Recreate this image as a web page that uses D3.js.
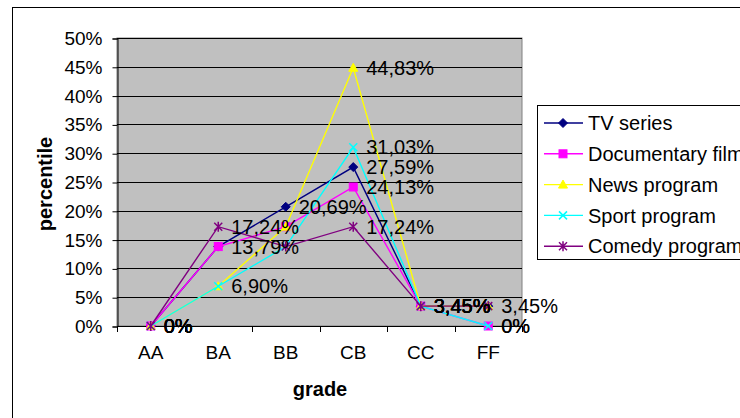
<!DOCTYPE html>
<html><head><meta charset="utf-8">
<script src="https://cdn.jsdelivr.net/npm/d3@7"></script>
<style>body{margin:0;background:#fff}svg{display:block;font-family:"Liberation Sans",Arial,sans-serif}</style>
</head><body><svg id="c" width="740" height="418"></svg>
<script>
const categories = ["AA","BA","BB","CB","CC","FF"];
const seriesNames = ["TV series","Documentary film","News program","Sport program","Comedy program"];
const tvSeries    = [0, 13.79, 20.69, 27.59, 3.45, 3.45];
const documentary = [0, 13.79, 17.24, 24.13, 3.45, 0];
const newsProgram = [0, 6.90, 17.24, 44.83, 3.45, 3.45];
const sportProgram= [0, 6.90, 13.79, 31.03, 3.45, 0];
const comedyProgram=[0, 17.24, 13.79, 17.24, 3.45, 3.45];
// which points carry a visible data label
const tvLabels     = [1,0,1,1,1,0];
const docLabels    = [1,1,0,1,1,1];
const newsLabels   = [1,0,0,1,1,0];
const sportLabels  = [1,1,0,1,1,1];
const comedyLabels = [1,1,0,1,1,1];
const yTicks = [0,5,10,15,20,25,30,35,40,45,50];

const colors = ["#000080","#FF00FF","#FFFF00","#00FFFF","#800080"];
const markers = ["diamond","square","triangle","x","star"];
const values = [tvSeries, documentary, newsProgram, sportProgram, comedyProgram];
const labels = [tvLabels, docLabels, newsLabels, sportLabels, comedyLabels];

const svg = d3.select("#c");
const L=117, R=522, T=38, B=326;
const x = d3.scaleBand().domain(categories).range([L,R]);
const cx = c => x(c) + x.bandwidth()/2;
const y = d3.scaleLinear().domain([0,50]).range([B,T]);

// outer frame
svg.append("rect").attr("x",12.5).attr("y",7.5).attr("width",760).attr("height",430)
  .attr("fill","#fff").attr("stroke","#000").attr("stroke-width",1);

// plot area
svg.append("rect").attr("x",L).attr("y",T).attr("width",R-L).attr("height",B-T)
  .attr("fill","#c0c0c0").attr("stroke","#808080").attr("stroke-width",1);

// gridlines
svg.append("g").selectAll("line").data(yTicks.filter(v=>v>0)).join("line")
  .attr("x1",L).attr("x2",R).attr("y1",d=>Math.round(y(d))+0.5).attr("y2",d=>Math.round(y(d))+0.5)
  .attr("stroke","#000").attr("stroke-width",1);

// y axis
const ya = svg.append("g").attr("transform",`translate(${L+0.5},0.5)`)
  .call(d3.axisLeft(y).tickValues(yTicks).tickFormat(d=>d+"%").tickSize(5).tickPadding(10));
ya.select(".domain").attr("stroke","#000");
ya.selectAll(".tick line").attr("stroke","#000");
ya.selectAll("text").attr("font-size","19px").attr("fill","#000").attr("font-family","Liberation Sans, Arial");

// x axis
const xa = svg.append("g").attr("transform",`translate(0,${B+0.5})`)
  .call(d3.axisBottom(x).tickSize(0).tickPadding(19));
xa.select(".domain").attr("stroke","#000").attr("d",`M${L},0H${R}`);
xa.selectAll("text").attr("font-size","19px").attr("fill","#000").attr("font-family","Liberation Sans, Arial");
svg.append("g").selectAll("line").data(categories.concat(["_end"])).join("line")
  .attr("x1",(d,i)=>Math.round(L + i*x.bandwidth())+0.5).attr("x2",(d,i)=>Math.round(L + i*x.bandwidth())+0.5)
  .attr("y1",B).attr("y2",B+6).attr("stroke","#000");

// axis titles
svg.append("text").attr("x",320).attr("y",396).attr("text-anchor","middle")
  .attr("font-size","20px").attr("font-weight","bold").text("grade");
svg.append("text").attr("transform","translate(52,184) rotate(-90)").attr("text-anchor","middle")
  .attr("font-size","20px").attr("font-weight","bold").text("percentile");

function drawMarker(g, type, color, px, py){
  const s=4.5;
  if(type==="diamond"){
    g.append("path").attr("d",`M${px},${py-s}L${px+s},${py}L${px},${py+s}L${px-s},${py}Z`).attr("fill",color).attr("stroke",color);
  } else if(type==="square"){
    g.append("rect").attr("x",px-4).attr("y",py-4).attr("width",8).attr("height",8).attr("fill",color).attr("stroke",color);
  } else if(type==="triangle"){
    g.append("path").attr("d",`M${px},${py-s}L${px+s},${py+s-1}L${px-s},${py+s-1}Z`).attr("fill",color).attr("stroke",color);
  } else if(type==="x"){
    g.append("path").attr("d",`M${px-4},${py-4}L${px+4},${py+4}M${px+4},${py-4}L${px-4},${py+4}`).attr("stroke",color).attr("stroke-width",1.5);
  } else {
    g.append("path").attr("d",`M${px-4},${py-4}L${px+4},${py+4}M${px+4},${py-4}L${px-4},${py+4}M${px},${py-5}L${px},${py+5}`).attr("stroke",color).attr("stroke-width",1.5);
  }
}
const fmt = v => v===0 ? "0%" : v.toFixed(2).replace(".",",")+"%";

const line = d3.line().x((d,i)=>cx(categories[i])).y(d=>y(d));
values.forEach((vals,si)=>{
  const g = svg.append("g");
  g.append("path").attr("d",line(vals)).attr("fill","none").attr("stroke",colors[si]).attr("stroke-width",1.4);
  vals.forEach((v,i)=>drawMarker(g, markers[si], colors[si], cx(categories[i]), y(v)));
});
// data labels
const lg = svg.append("g");
values.forEach((vals,si)=>{
  vals.forEach((v,i)=>{
    if(labels[si][i]) lg.append("text").attr("x",cx(categories[i])+13).attr("y",y(v))
      .attr("dy","0.36em").attr("font-size","20px").attr("fill","#000").text(fmt(v));
  });
});

// legend
const leg = svg.append("g");
leg.append("rect").attr("x",537.5).attr("y",105.5).attr("width",220).attr("height",154)
  .attr("fill","#fff").attr("stroke","#000");
seriesNames.forEach((n,i)=>{
  const ly = 123 + i*30.8;
  leg.append("line").attr("x1",544).attr("x2",583).attr("y1",ly).attr("y2",ly).attr("stroke",colors[i]).attr("stroke-width",1.4);
  drawMarker(leg, markers[i], colors[i], 563, ly);
  leg.append("text").attr("x",588).attr("y",ly).attr("dy","0.36em").attr("font-size","20px").attr("fill","#000").text(n);
});
</script></body></html>
